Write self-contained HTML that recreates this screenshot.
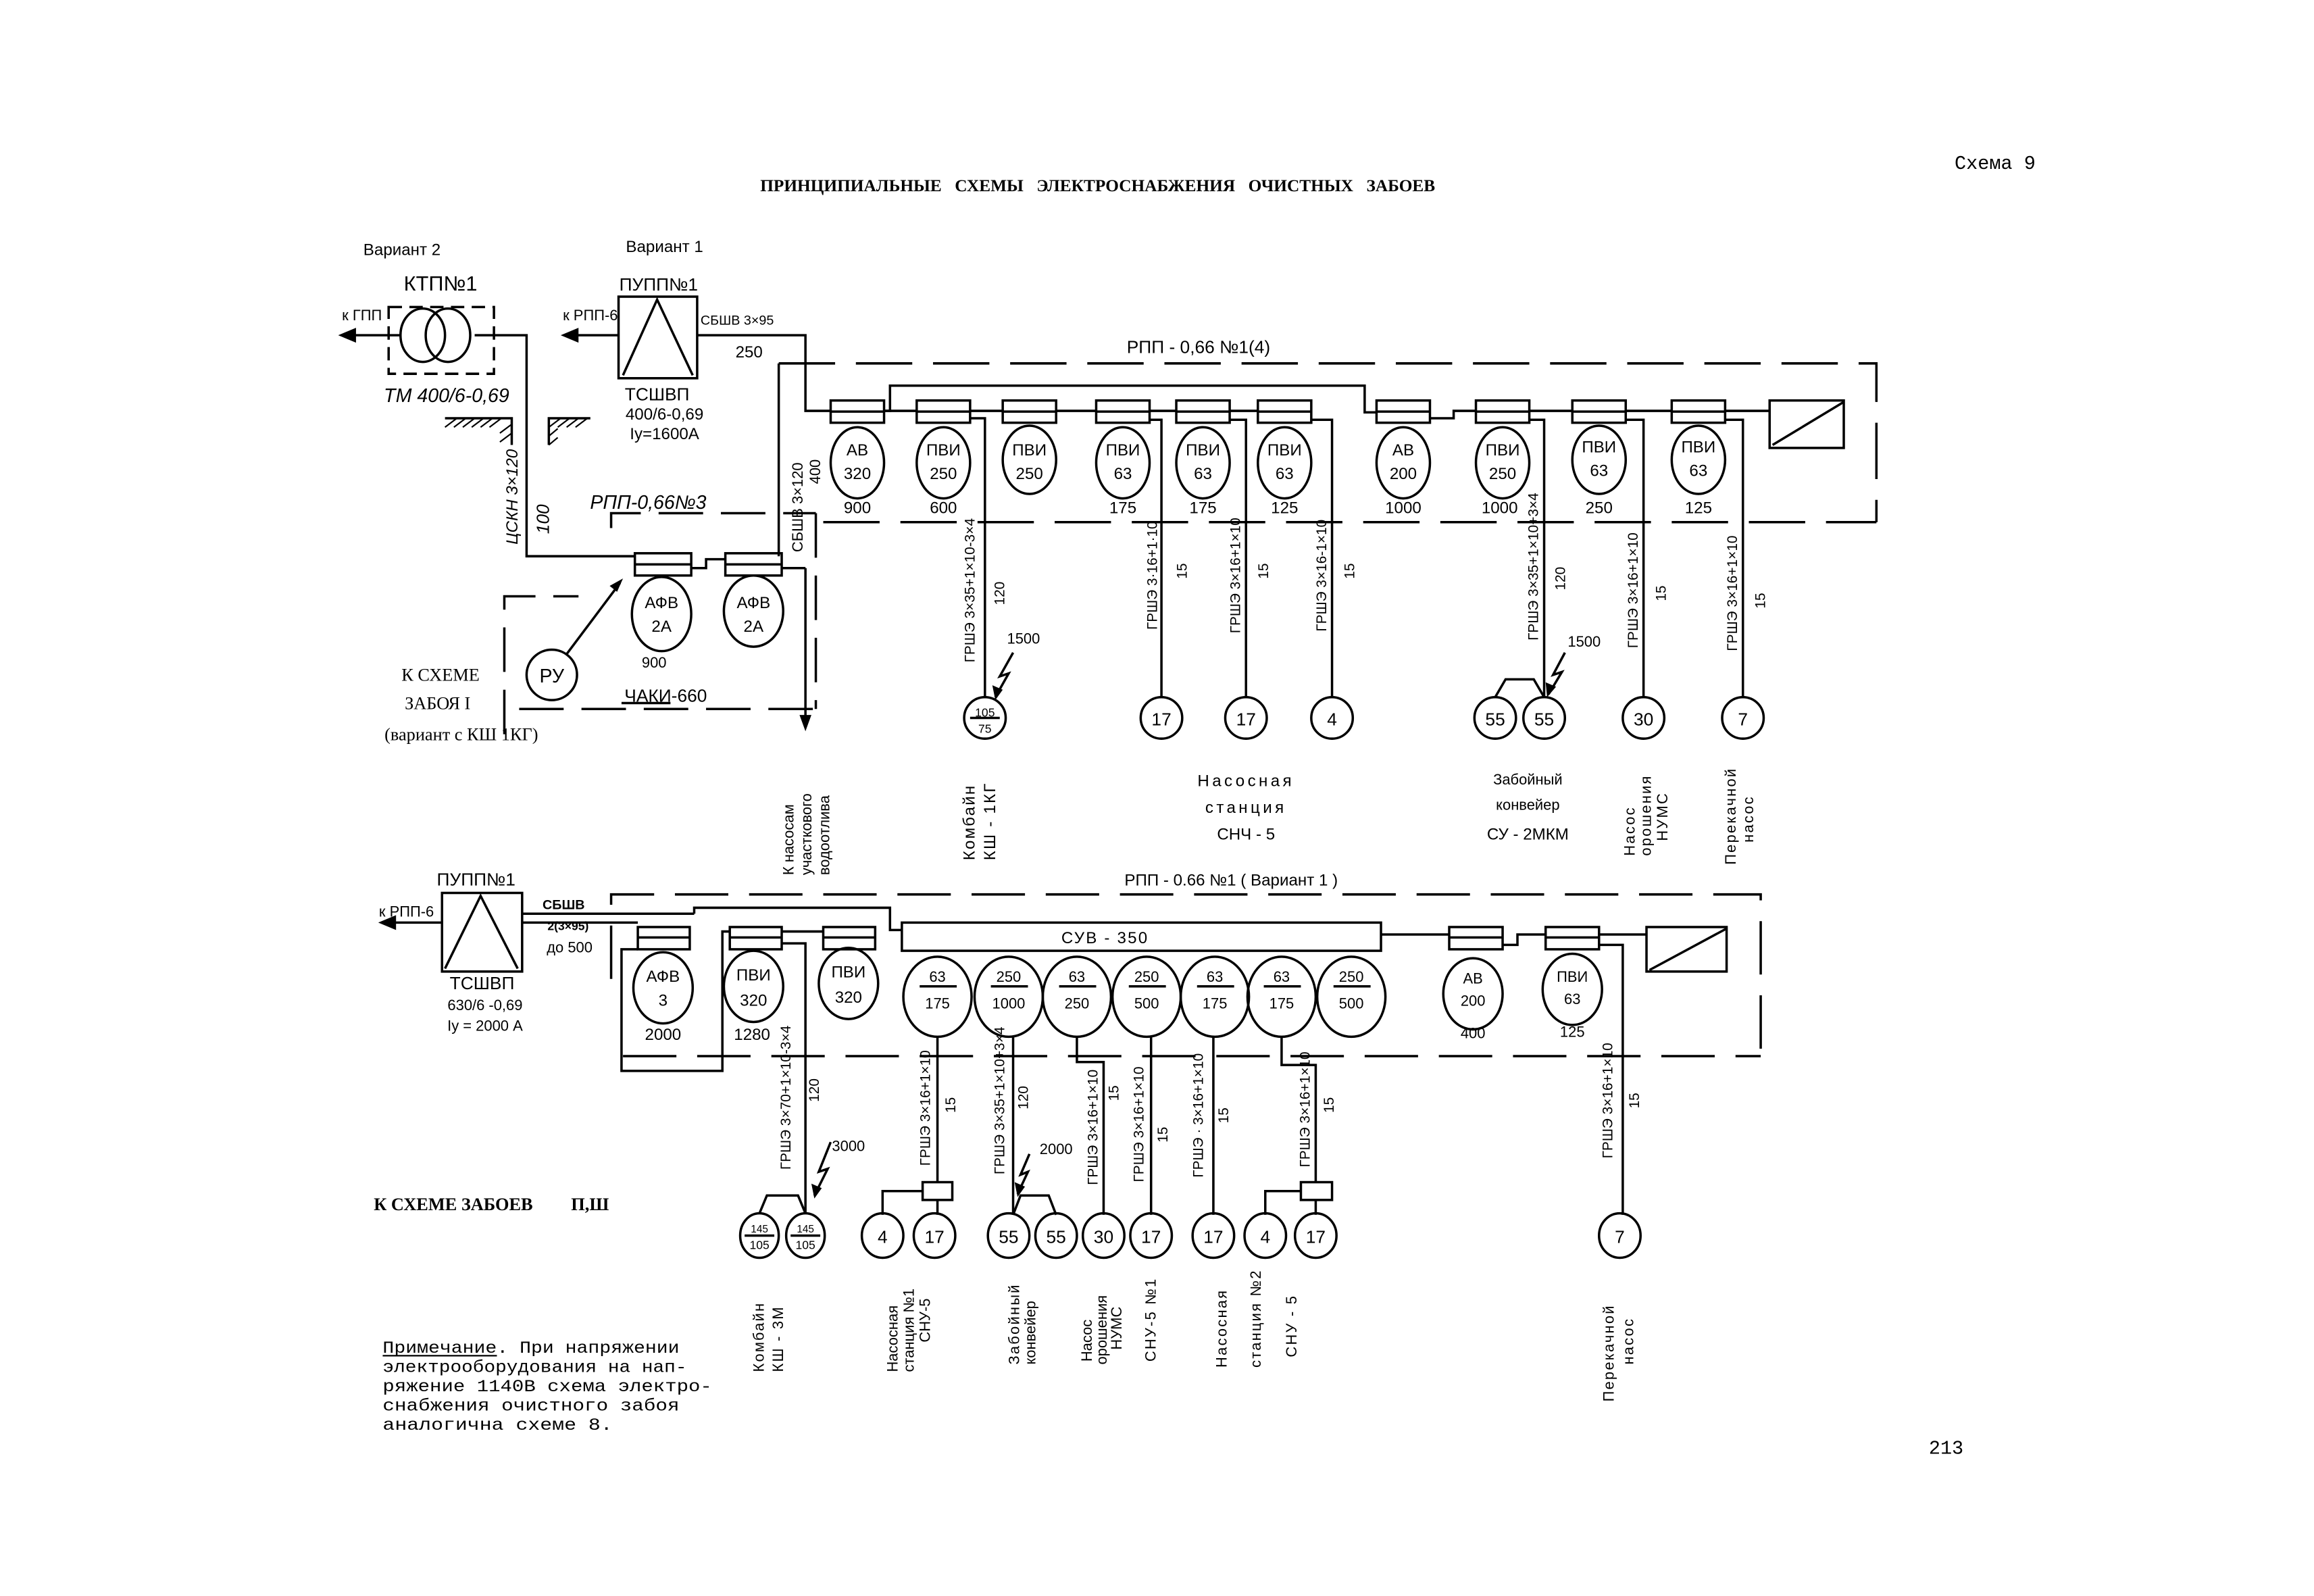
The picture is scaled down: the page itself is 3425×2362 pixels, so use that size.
<!DOCTYPE html>
<html><head><meta charset="utf-8">
<style>
html,body{margin:0;padding:0;background:#fff;}
svg{display:block;}
text{font-family:"Liberation Sans","DejaVu Sans",sans-serif;fill:#000;}
text.s,.s text{font-family:"Liberation Serif","DejaVu Serif",serif;}
text.m,.m text{font-family:"Liberation Mono","DejaVu Sans Mono",monospace;}
</style></head><body>
<svg width="3425" height="2362" viewBox="0 0 1560 1076" preserveAspectRatio="none" xmlns="http://www.w3.org/2000/svg">
<rect width="1560" height="1076" fill="#fff"/>
<g fill="none" stroke="#000" stroke-width="1.6">
<rect x="262" y="207" width="71" height="45" stroke-dasharray="9,5"/>
<ellipse cx="285" cy="226" rx="15" ry="18"/>
<ellipse cx="302" cy="226" rx="15" ry="18"/>
<line x1="270" y1="226" x2="234" y2="226"/>
<polyline points="320,226 355,226 355,375 428,375"/>
<path d="M300 282 H345 V300"/><path d="M370 300 V282 H398"/>
<rect x="417" y="200" width="53" height="55"/>
<polyline points="420,253 443,202 467,253"/>
<line x1="417" y1="226" x2="384" y2="226"/>
<polyline points="470,226 543,226 543,277 560,277"/>
<polyline points="525,245 1265,245 1265,352" stroke-dasharray="38,14"/>
<line x1="555" y1="352" x2="1265" y2="352" stroke-dasharray="38,14"/>
<line x1="525" y1="245" x2="525" y2="375"/>
<polyline points="596,277 600,277 600,260 920,260 920,278 928,278"/>
<line x1="596" y1="277" x2="618" y2="277"/>
<line x1="654" y1="277" x2="676" y2="277"/>
<line x1="712" y1="277" x2="739" y2="277"/>
<line x1="775" y1="277" x2="793" y2="277"/>
<line x1="829" y1="277" x2="848" y2="277"/>
<polyline points="964,282 980,282 980,277 995,277"/>
<line x1="1031" y1="277" x2="1060" y2="277"/>
<line x1="1096" y1="277" x2="1127" y2="277"/>
<line x1="1163" y1="277" x2="1193" y2="277"/>
<rect x="1193" y="270" width="50" height="32"/>
<line x1="1195" y1="300" x2="1243" y2="271"/>
<g>
<rect x="560" y="270" width="36" height="15"/><line x1="560" y1="277.5" x2="596" y2="277.5"/>
<rect x="618" y="270" width="36" height="15"/><line x1="618" y1="277.5" x2="654" y2="277.5"/>
<rect x="676" y="270" width="36" height="15"/><line x1="676" y1="277.5" x2="712" y2="277.5"/>
<rect x="739" y="270" width="36" height="15"/><line x1="739" y1="277.5" x2="775" y2="277.5"/>
<rect x="793" y="270" width="36" height="15"/><line x1="793" y1="277.5" x2="829" y2="277.5"/>
<rect x="848" y="270" width="36" height="15"/><line x1="848" y1="277.5" x2="884" y2="277.5"/>
<rect x="928" y="270" width="36" height="15"/><line x1="928" y1="277.5" x2="964" y2="277.5"/>
<rect x="995" y="270" width="36" height="15"/><line x1="995" y1="277.5" x2="1031" y2="277.5"/>
<rect x="1060" y="270" width="36" height="15"/><line x1="1060" y1="277.5" x2="1096" y2="277.5"/>
<rect x="1127" y="270" width="36" height="15"/><line x1="1127" y1="277.5" x2="1163" y2="277.5"/>
</g>
<ellipse cx="578" cy="312" rx="18" ry="24"/>
<ellipse cx="636" cy="312" rx="18" ry="24"/>
<ellipse cx="694" cy="310" rx="18" ry="23"/>
<ellipse cx="757" cy="312" rx="18" ry="24"/>
<ellipse cx="811" cy="312" rx="18" ry="24"/>
<ellipse cx="866" cy="312" rx="18" ry="24"/>
<ellipse cx="946" cy="312" rx="18" ry="24"/>
<ellipse cx="1013" cy="312" rx="18" ry="24"/>
<ellipse cx="1078" cy="310" rx="18" ry="23"/>
<ellipse cx="1145" cy="310" rx="18" ry="23"/>
<polyline points="654,282 664,282 664,470"/>
<polyline points="775,283 783,283 783,470"/>
<polyline points="829,283 840,283 840,470"/>
<polyline points="884,283 898,283 898,470"/>
<polyline points="1031,283 1041,283 1041,470"/>
<polyline points="1096,283 1108,283 1108,470"/>
<polyline points="1163,283 1175,283 1175,470"/>
<polyline points="1008,470 1015,458 1034,458 1041,470"/>
<polyline points="683,440 674,456 680,454 671,470"/>
<polyline points="1055,440 1047,455 1053,453 1044,468"/>
<circle cx="664" cy="484" r="14"/>
<line x1="654" y1="484" x2="674" y2="484"/>
<circle cx="783" cy="484" r="14"/>
<circle cx="840" cy="484" r="14"/>
<circle cx="898" cy="484" r="14"/>
<circle cx="1008" cy="484" r="14"/>
<circle cx="1041" cy="484" r="14"/>
<circle cx="1108" cy="484" r="14"/>
<circle cx="1175" cy="484" r="14"/>
<polyline points="412,356 412,346 550,346" stroke-dasharray="30,12"/>
<polyline points="340,495 340,402 390,402" stroke-dasharray="30,12"/>
<line x1="550" y1="346" x2="550" y2="478" stroke-dasharray="30,12"/>
<line x1="350" y1="478" x2="550" y2="478" stroke-dasharray="30,12"/>
<rect x="428" y="373" width="38" height="15"/><line x1="428" y1="380.5" x2="466" y2="380.5"/>
<rect x="489" y="373" width="38" height="15"/><line x1="489" y1="380.5" x2="527" y2="380.5"/>
<polyline points="466,383 476,383 476,377 489,377"/>
<polyline points="527,383 543,383"/>
<line x1="543" y1="383" x2="543" y2="488"/>
<ellipse cx="446" cy="414" rx="20" ry="25"/>
<ellipse cx="508" cy="412" rx="20" ry="24"/>
<circle cx="372" cy="455" r="17"/>
<line x1="382" y1="441" x2="418" y2="393"/>
<line x1="419" y1="474" x2="452" y2="474"/>
<rect x="298" y="602" width="54" height="53"/>
<polyline points="300,653 324,604 349,653"/>
<line x1="298" y1="622" x2="260" y2="622"/>
<line x1="352" y1="616" x2="468" y2="616"/>
<polyline points="352,622 430,622"/>
<polyline points="412,660 412,603 1187,603 1187,712" stroke-dasharray="36,14"/>
<line x1="420" y1="712" x2="1187" y2="712" stroke-dasharray="36,14"/>
<polyline points="468,616 468,612 600,612 600,627 608,627"/>
<rect x="430" y="625" width="35" height="15"/><line x1="430" y1="632" x2="465" y2="632"/>
<rect x="492" y="625" width="35" height="15"/><line x1="492" y1="632" x2="527" y2="632"/>
<rect x="555" y="625" width="35" height="15"/><line x1="555" y1="632" x2="590" y2="632"/>
<line x1="527" y1="628" x2="555" y2="628"/>
<polyline points="430,640 419,640 419,722 487,722 487,628 492,628"/>
<rect x="608" y="622" width="323" height="19"/>
<line x1="931" y1="630" x2="977" y2="630"/>
<rect x="977" y="625" width="36" height="15"/><line x1="977" y1="632" x2="1013" y2="632"/>
<polyline points="1013,637 1023,637 1023,630 1042,630"/>
<rect x="1042" y="625" width="36" height="15"/><line x1="1042" y1="632" x2="1078" y2="632"/>
<line x1="1078" y1="630" x2="1110" y2="630"/>
<rect x="1110" y="625" width="54" height="30"/>
<line x1="1112" y1="654" x2="1164" y2="626"/>
<ellipse cx="447" cy="666" rx="20" ry="24"/>
<ellipse cx="508" cy="665" rx="20" ry="24"/>
<ellipse cx="572" cy="663" rx="20" ry="24"/>
<ellipse cx="632" cy="672" rx="23" ry="27"/>
<ellipse cx="680" cy="672" rx="23" ry="27"/>
<ellipse cx="726" cy="672" rx="23" ry="27"/>
<ellipse cx="773" cy="672" rx="23" ry="27"/>
<ellipse cx="819" cy="672" rx="23" ry="27"/>
<ellipse cx="864" cy="672" rx="23" ry="27"/>
<ellipse cx="911" cy="672" rx="23" ry="27"/>
<ellipse cx="993" cy="670" rx="20" ry="24"/>
<ellipse cx="1060" cy="667" rx="20" ry="24"/>
<line x1="620" y1="665" x2="645" y2="665"/><line x1="668" y1="665" x2="693" y2="665"/>
<line x1="714" y1="665" x2="739" y2="665"/><line x1="761" y1="665" x2="786" y2="665"/>
<line x1="807" y1="665" x2="832" y2="665"/><line x1="852" y1="665" x2="877" y2="665"/>
<line x1="899" y1="665" x2="924" y2="665"/>
<polyline points="527,636 543,636 543,818"/>
<polyline points="512,818 517,806 538,806 543,818"/>
<polyline points="560,770 552,790 558,788 549,806"/>
<line x1="632" y1="699" x2="632" y2="797"/>
<rect x="622" y="797" width="20" height="12"/>
<line x1="632" y1="809" x2="632" y2="819"/>
<polyline points="622,803 595,803 595,819"/>
<line x1="683" y1="699" x2="683" y2="819"/>
<polyline points="683,819 688,806 707,806 712,819"/>
<polyline points="694,778 688,792 693,790 686,805"/>
<polyline points="726,699 726,716 744,716 744,819"/>
<line x1="776" y1="699" x2="776" y2="819"/>
<line x1="818" y1="699" x2="818" y2="819"/>
<polyline points="864,699 864,718 887,718 887,797"/>
<rect x="877" y="797" width="21" height="12"/>
<line x1="887" y1="809" x2="887" y2="819"/>
<polyline points="877,803 853,803 853,819"/>
<polyline points="1078,637 1094,637 1094,819"/>
<ellipse cx="512" cy="833" rx="13" ry="15"/><line x1="502" y1="833" x2="522" y2="833"/>
<ellipse cx="543" cy="833" rx="13" ry="15"/><line x1="533" y1="833" x2="553" y2="833"/>
<ellipse cx="595" cy="833" rx="14" ry="15"/>
<ellipse cx="630" cy="833" rx="14" ry="15"/>
<ellipse cx="680" cy="833" rx="14" ry="15"/>
<ellipse cx="712" cy="833" rx="14" ry="15"/>
<ellipse cx="744" cy="833" rx="14" ry="15"/>
<ellipse cx="776" cy="833" rx="14" ry="15"/>
<ellipse cx="818" cy="833" rx="14" ry="15"/>
<ellipse cx="853" cy="833" rx="14" ry="15"/>
<ellipse cx="887" cy="833" rx="14" ry="15"/>
<ellipse cx="1092" cy="833" rx="14" ry="15"/>
</g>
<g stroke="#000" stroke-width="1">
<path d="M300 288 l8 -6 M306 288 l8 -6 M312 288 l8 -6 M318 288 l8 -6 M324 288 l8 -6 M330 288 l8 -6 M337 292 l8 -6 M337 298 l8 -6"/>
<path d="M370 288 l8 -6 M376 288 l8 -6 M382 288 l8 -6 M388 288 l8 -6 M370 294 l6 -5 M370 300 l6 -5"/>
</g>
<g fill="#000">
<polygon points="228,226 240,221 240,231"/>
<polygon points="378,226 390,221 390,231"/>
<polygon points="543,493 539,482 547,482"/>
<polygon points="420,390 411,395 416,399"/>
<polygon points="255,622 267,617 267,627"/>
<polygon points="671,472 669,462 676,465"/>
<polygon points="1043,470 1042,460 1049,463"/>
<polygon points="549,808 547,798 554,801"/>
<polygon points="686,807 684,797 691,800"/>
</g>
<text x="740" y="129" text-anchor="middle" class="s" font-size="11.5" font-weight="bold" word-spacing="6" textLength="455" lengthAdjust="spacingAndGlyphs">ПРИНЦИПИАЛЬНЫЕ СХЕМЫ ЭЛЕКТРОСНАБЖЕНИЯ ОЧИСТНЫХ ЗАБОЕВ</text>
<text x="1345" y="114" text-anchor="middle" class="m" font-size="13">Схема 9</text>
<text x="1312" y="980" text-anchor="middle" class="m" font-size="13">213</text>
<g font-size="11">
<text x="271" y="172" text-anchor="middle">Вариант 2</text>
<text x="448" y="170" text-anchor="middle">Вариант 1</text>
<text x="297" y="196" text-anchor="middle" font-size="14">КТП№1</text>
<text x="244" y="216" text-anchor="middle" font-size="10">к ГПП</text>
<text x="301" y="271" text-anchor="middle" font-size="13" font-style="italic">ТМ 400/6-0,69</text>
<text x="444" y="196" text-anchor="middle" font-size="12">ПУПП№1</text>
<text x="398" y="216" text-anchor="middle" font-size="10">к РПП-6</text>
<text x="497" y="219" text-anchor="middle" font-size="9">СБШВ 3×95</text>
<text x="505" y="241" text-anchor="middle" font-size="11">250</text>
<text x="443" y="270" text-anchor="middle" font-size="12">ТСШВП</text>
<text x="448" y="283" text-anchor="middle" font-size="11">400/6-0,69</text>
<text x="448" y="296" text-anchor="middle" font-size="11">Iу=1600А</text>
<text x="808" y="238" text-anchor="middle" font-size="12">РПП - 0,66 №1(4)</text>
<text x="437" y="343" text-anchor="middle" font-size="13" font-style="italic">РПП-0,66№3</text>
<text transform="translate(349,335) rotate(-90)" text-anchor="middle" font-size="11" font-style="italic">ЦСКН 3×120</text>
<text transform="translate(370,350) rotate(-90)" text-anchor="middle" font-size="12" font-style="italic">100</text>
<text transform="translate(541,342) rotate(-90)" text-anchor="middle" font-size="10">СБШВ 3×120</text>
<text transform="translate(553,318) rotate(-90)" text-anchor="middle" font-size="10">400</text>
</g>
<g font-size="11" text-anchor="middle">
<text x="578" y="307">АВ</text><text x="578" y="323">320</text><text x="578" y="346">900</text>
<text x="636" y="307">ПВИ</text><text x="636" y="323">250</text><text x="636" y="346">600</text>
<text x="694" y="307">ПВИ</text><text x="694" y="323">250</text>
<text x="757" y="307">ПВИ</text><text x="757" y="323">63</text><text x="757" y="346">175</text>
<text x="811" y="307">ПВИ</text><text x="811" y="323">63</text><text x="811" y="346">175</text>
<text x="866" y="307">ПВИ</text><text x="866" y="323">63</text><text x="866" y="346">125</text>
<text x="946" y="307">АВ</text><text x="946" y="323">200</text><text x="946" y="346">1000</text>
<text x="1013" y="307">ПВИ</text><text x="1013" y="323">250</text><text x="1011" y="346">1000</text>
<text x="1078" y="305">ПВИ</text><text x="1078" y="321">63</text><text x="1078" y="346">250</text>
<text x="1145" y="305">ПВИ</text><text x="1145" y="321">63</text><text x="1145" y="346">125</text>
<text x="446" y="410">АФВ</text><text x="446" y="426">2А</text><text x="441" y="450" font-size="10">900</text>
<text x="508" y="410">АФВ</text><text x="508" y="426">2А</text>
<text x="372" y="460" font-size="13">РУ</text>
<text x="421" y="473" text-anchor="start" font-size="12">ЧАКИ-660</text>
<text x="664" y="483" font-size="8">105</text><text x="664" y="494" font-size="8">75</text>
<text x="783" y="489" font-size="12">17</text><text x="840" y="489" font-size="12">17</text>
<text x="898" y="489" font-size="12">4</text><text x="1008" y="489" font-size="12">55</text>
<text x="1041" y="489" font-size="12">55</text><text x="1108" y="489" font-size="12">30</text>
<text x="1175" y="489" font-size="12">7</text>
<text x="690" y="434" font-size="10">1500</text>
<text x="1068" y="436" font-size="10">1500</text>
</g>
<g class="s" font-size="12" text-anchor="middle">
<text x="297" y="459">К СХЕМЕ</text>
<text x="295" y="478">ЗАБОЯ I</text>
<text x="311" y="499">(вариант с КШ 1КГ)</text>
</g>
<g font-size="9.5" text-anchor="middle">
<text transform="translate(657,398) rotate(-90)">ГРШЭ  3×35+1×10-3×4</text>
<text transform="translate(677,400) rotate(-90)">120</text>
<text transform="translate(780,388) rotate(-90)">ГРШЭ  3·16+1·10</text>
<text transform="translate(800,385) rotate(-90)">15</text>
<text transform="translate(836,388) rotate(-90)">ГРШЭ  3×16+1×10</text>
<text transform="translate(855,385) rotate(-90)">15</text>
<text transform="translate(894,388) rotate(-90)">ГРШЭ  3×16-1×10</text>
<text transform="translate(913,385) rotate(-90)">15</text>
<text transform="translate(1037,382) rotate(-90)">ГРШЭ  3×35+1×10+3×4</text>
<text transform="translate(1055,390) rotate(-90)">120</text>
<text transform="translate(1104,398) rotate(-90)">ГРШЭ  3×16+1×10</text>
<text transform="translate(1123,400) rotate(-90)">15</text>
<text transform="translate(1171,400) rotate(-90)">ГРШЭ  3×16+1×10</text>
<text transform="translate(1190,405) rotate(-90)">15</text>
</g>
<g font-size="10">
<text transform="translate(535,590) rotate(-90)">К насосам</text>
<text transform="translate(547,590) rotate(-90)">участкового</text>
<text transform="translate(559,590) rotate(-90)">водоотлива</text>
<text transform="translate(657,580) rotate(-90)" font-size="11" letter-spacing="1">Комбайн</text>
<text transform="translate(671,580) rotate(-90)" font-size="11" letter-spacing="1">КШ - 1КГ</text>
<text x="840" y="530" text-anchor="middle" font-size="11" letter-spacing="2">Насосная</text>
<text x="840" y="548" text-anchor="middle" font-size="11" letter-spacing="2">станция</text>
<text x="840" y="566" text-anchor="middle" font-size="11">СНЧ - 5</text>
<text x="1030" y="529" text-anchor="middle">Забойный</text>
<text x="1030" y="546" text-anchor="middle">конвейер</text>
<text x="1030" y="566" text-anchor="middle" font-size="11">СУ - 2МКМ</text>
<text transform="translate(1102,577) rotate(-90)" letter-spacing="1">Насос</text>
<text transform="translate(1113,577) rotate(-90)" letter-spacing="1">орошения</text>
<text transform="translate(1124,567) rotate(-90)" letter-spacing="1">НУМС</text>
<text transform="translate(1170,583) rotate(-90)" letter-spacing="1">Перекачной</text>
<text transform="translate(1182,568) rotate(-90)" letter-spacing="1">насос</text>
</g>
<g font-size="11" text-anchor="middle">
<text x="321" y="597" font-size="12">ПУПП№1</text>
<text x="274" y="618" font-size="10">к РПП-6</text>
<text x="380" y="613" font-size="9" font-weight="bold">СБШВ</text>
<text x="383" y="627" font-size="8" font-weight="bold">2(3×95)</text>
<text x="384" y="642" font-size="10">до 500</text>
<text x="325" y="667" font-size="12">ТСШВП</text>
<text x="327" y="681" font-size="10">630/6 -0,69</text>
<text x="327" y="695" font-size="10">Iу = 2000 А</text>
<text x="830" y="597" font-size="11">РПП - 0.66 №1 ( Вариант 1 )</text>
<text x="745" y="636" font-size="11" letter-spacing="1">СУВ - 350</text>
<text x="447" y="662">АФВ</text><text x="447" y="678">3</text><text x="447" y="701">2000</text>
<text x="508" y="661">ПВИ</text><text x="508" y="678">320</text><text x="507" y="701">1280</text>
<text x="572" y="659">ПВИ</text><text x="572" y="676">320</text>
<g font-size="10">
<text x="632" y="662">63</text><text x="632" y="680">175</text>
<text x="680" y="662">250</text><text x="680" y="680">1000</text>
<text x="726" y="662">63</text><text x="726" y="680">250</text>
<text x="773" y="662">250</text><text x="773" y="680">500</text>
<text x="819" y="662">63</text><text x="819" y="680">175</text>
<text x="864" y="662">63</text><text x="864" y="680">175</text>
<text x="911" y="662">250</text><text x="911" y="680">500</text>
<text x="993" y="663">АВ</text><text x="993" y="678">200</text><text x="993" y="700">400</text>
<text x="1060" y="662">ПВИ</text><text x="1060" y="677">63</text><text x="1060" y="699">125</text>
</g>
<text x="512" y="831" font-size="7">145</text><text x="512" y="842" font-size="8">105</text>
<text x="543" y="831" font-size="7">145</text><text x="543" y="842" font-size="8">105</text>
<text x="595" y="838" font-size="12">4</text><text x="630" y="838" font-size="12">17</text>
<text x="680" y="838" font-size="12">55</text><text x="712" y="838" font-size="12">55</text>
<text x="744" y="838" font-size="12">30</text><text x="776" y="838" font-size="12">17</text>
<text x="818" y="838" font-size="12">17</text><text x="853" y="838" font-size="12">4</text>
<text x="887" y="838" font-size="12">17</text><text x="1092" y="838" font-size="12">7</text>
<text x="572" y="776" font-size="10">3000</text>
<text x="712" y="778" font-size="10">2000</text>
</g>
<g font-size="9.5" text-anchor="middle">
<text transform="translate(533,740) rotate(-90)">ГРШЭ  3×70+1×10-3×4</text>
<text transform="translate(552,735) rotate(-90)">120</text>
<text transform="translate(627,747) rotate(-90)">ГРШЭ  3×16+1×10</text>
<text transform="translate(644,745) rotate(-90)">15</text>
<text transform="translate(677,742) rotate(-90)">ГРШЭ  3×35+1×10+3×4</text>
<text transform="translate(693,740) rotate(-90)">120</text>
<text transform="translate(740,760) rotate(-90)">ГРШЭ  3×16+1×10</text>
<text transform="translate(754,737) rotate(-90)">15</text>
<text transform="translate(771,758) rotate(-90)">ГРШЭ  3×16+1×10</text>
<text transform="translate(787,765) rotate(-90)">15</text>
<text transform="translate(811,752) rotate(-90)">ГРШЭ · 3×16+1×10</text>
<text transform="translate(828,752) rotate(-90)">15</text>
<text transform="translate(883,748) rotate(-90)">ГРШЭ  3×16+1×10</text>
<text transform="translate(899,745) rotate(-90)">15</text>
<text transform="translate(1087,742) rotate(-90)">ГРШЭ  3×16+1×10</text>
<text transform="translate(1105,742) rotate(-90)">15</text>
</g>
<text x="252" y="816" class="s" font-size="12" font-weight="bold">К СХЕМЕ ЗАБОЕВ</text>
<text x="385" y="816" class="s" font-size="12" font-weight="bold">П,Ш</text>
<g font-size="10" letter-spacing="1">
<text transform="translate(515,925) rotate(-90)">Комбайн</text>
<text transform="translate(528,925) rotate(-90)">КШ - 3М</text>
<text transform="translate(605,925) rotate(-90)" letter-spacing="0">Насосная</text>
<text transform="translate(616,925) rotate(-90)" letter-spacing="0">станция №1</text>
<text transform="translate(627,905) rotate(-90)" letter-spacing="0">СНУ-5</text>
<text transform="translate(687,920) rotate(-90)">Забойный</text>
<text transform="translate(698,920) rotate(-90)" letter-spacing="0">конвейер</text>
<text transform="translate(736,918) rotate(-90)" letter-spacing="0">Насос</text>
<text transform="translate(746,920) rotate(-90)" letter-spacing="0">орошения</text>
<text transform="translate(756,910) rotate(-90)" letter-spacing="0">НУМС</text>
<text transform="translate(779,918) rotate(-90)">СНУ-5 №1</text>
<text transform="translate(827,922) rotate(-90)">Насосная</text>
<text transform="translate(850,922) rotate(-90)">станция №2</text>
<text transform="translate(874,915) rotate(-90)">СНУ - 5</text>
<text transform="translate(1088,945) rotate(-90)">Перекачной</text>
<text transform="translate(1101,920) rotate(-90)">насос</text>
</g>
<g class="m" font-size="11.5">
<text x="258" y="912" textLength="200" lengthAdjust="spacingAndGlyphs">Примечание. При напряжении</text>
<text x="258" y="925" textLength="205" lengthAdjust="spacingAndGlyphs">электрооборудования на нап-</text>
<text x="258" y="938" textLength="222" lengthAdjust="spacingAndGlyphs">ряжение 1140В схема электро-</text>
<text x="258" y="951" textLength="200" lengthAdjust="spacingAndGlyphs">снабжения очистного забоя</text>
<text x="258" y="964" textLength="155" lengthAdjust="spacingAndGlyphs">аналогична схеме 8.</text>
</g>
<line x1="258" y1="914" x2="335" y2="914" stroke="#000" stroke-width="1"/>
</svg>
</body></html>
